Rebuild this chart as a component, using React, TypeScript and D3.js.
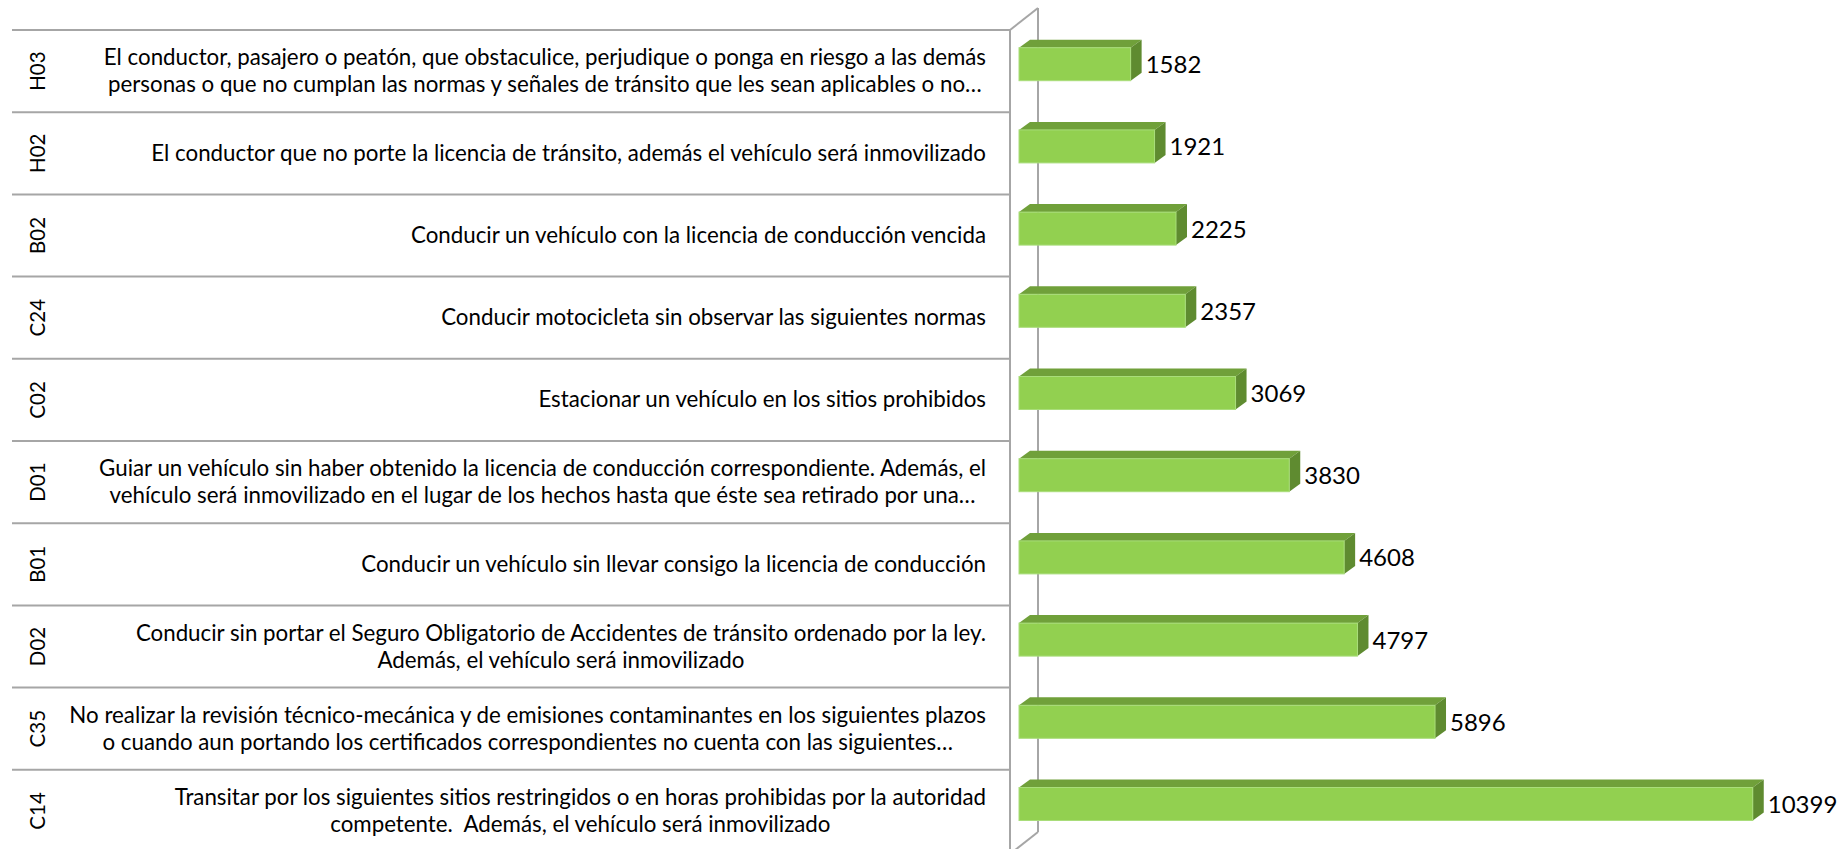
import React, { useEffect, useRef } from "react";
import * as d3 from "d3";

// codes, top to bottom
const codes = ["H03", "H02", "B02", "C24", "C02", "D01", "B01", "D02", "C35", "C14"];

const descriptions = [
  ["El conductor, pasajero o peatón, que obstaculice, perjudique o ponga en riesgo a las demás", "personas o que no cumplan las normas y señales de tránsito que les sean aplicables o no…"],
  ["El conductor que no porte la licencia de tránsito, además el vehículo será inmovilizado"],
  ["Conducir un vehículo con la licencia de conducción vencida"],
  ["Conducir motocicleta sin observar las siguientes normas"],
  ["Estacionar un vehículo en los sitios prohibidos"],
  ["Guiar un vehículo sin haber obtenido la licencia de conducción correspondiente. Además, el", "vehículo será inmovilizado en el lugar de los hechos hasta que éste sea retirado por una…"],
  ["Conducir un vehículo sin llevar consigo la licencia de conducción"],
  ["Conducir sin portar el Seguro Obligatorio de Accidentes de tránsito ordenado por la ley.", "Además, el vehículo será inmovilizado"],
  ["No realizar la revisión técnico-mecánica y de emisiones contaminantes en los siguientes plazos", "o cuando aun portando los certificados correspondientes no cuenta con las siguientes…"],
  ["Transitar por los siguientes sitios restringidos o en horas prohibidas por la autoridad", "competente.  Además, el vehículo será inmovilizado"],
];

const values = [1582, 1921, 2225, 2357, 3069, 3830, 4608, 4797, 5896, 10399];

const App = () => {
  const svgRef = useRef<SVGSVGElement>(null);

  useEffect(() => {
    document.body.style.margin = "0";
    const svg = d3.select(svgRef.current);
    svg.selectAll("*").remove();

    const height = 849;
    const font = "Lato, 'Open Sans', sans-serif";

    const y = d3.scaleBand().domain(codes).range([30, 30 + 82.2 * codes.length]);
    const x = d3.scaleLinear().domain([0, 12000]).range([1019, 1019 + 0.07056 * 12000]);

    const wallFront = 1010;
    const wallBack = 1038;
    const depthX = 11;
    const depthY = 8;
    const labelRight = 986;
    const gray = "#a6a6a6";

    // 3d wall: back edge first so the bars sit over it
    svg.append("line")
      .attr("x1", wallBack).attr("x2", wallBack)
      .attr("y1", 8).attr("y2", 832)
      .attr("stroke", gray).attr("stroke-width", 2);
    svg.append("line")
      .attr("x1", wallFront).attr("y1", 30)
      .attr("x2", wallBack).attr("y2", 8)
      .attr("stroke", gray).attr("stroke-width", 2);
    svg.append("line")
      .attr("x1", wallBack).attr("y1", 832)
      .attr("x2", wallFront).attr("y2", 854)
      .attr("stroke", gray).attr("stroke-width", 2);
    svg.append("line")
      .attr("x1", wallFront).attr("x2", wallFront)
      .attr("y1", 30).attr("y2", height)
      .attr("stroke", gray).attr("stroke-width", 2);

    // table row lines
    svg.selectAll(".row")
      .data(codes)
      .join("line")
      .attr("class", "row")
      .attr("x1", 12)
      .attr("x2", wallFront)
      .attr("y1", (d) => y(d)!)
      .attr("y2", (d) => y(d)!)
      .attr("stroke", gray)
      .attr("stroke-width", 2);

    // code labels
    svg.selectAll(".code")
      .data(codes)
      .join("text")
      .attr("class", "code")
      .attr("transform", (d) => `translate(45,${y(d)! + y.bandwidth() / 2}) rotate(-90)`)
      .attr("text-anchor", "middle")
      .attr("font-family", font)
      .attr("font-size", 20.5)
      .attr("fill", "#000")
      .text((d) => d);

    // description labels: lines centred to each other, block right aligned
    codes.forEach((c, i) => {
      const lines = descriptions[i];
      const cy = y(c)! + y.bandwidth() / 2;
      const g = svg.append("g");
      const texts = lines.map((t, j) =>
        g.append("text")
          .attr("y", cy + 7.5 + (j - (lines.length - 1) / 2) * 27)
          .attr("text-anchor", "middle")
          .attr("font-family", font)
          .attr("font-size", 22.3)
          .attr("fill", "#000")
          .style("white-space", "pre")
          .text(t)
      );
      const w = d3.max(texts, (t) => (t.node() as SVGTextElement).getComputedTextLength()) || 0;
      texts.forEach((t) => t.attr("x", labelRight - w / 2));
    });

    // bars
    const barTop = (d: string) => y(d)! + 17.7;
    const barH = 33;
    const bars = svg.selectAll(".bar")
      .data(codes.map((c, i) => ({ code: c, value: values[i] })))
      .join("g")
      .attr("class", "bar");

    bars.append("polygon")
      .attr("points", (d) => {
        const x0 = x(0), x1 = x(d.value), t = barTop(d.code);
        return [[x0, t], [x0 + depthX, t - depthY], [x1 + depthX, t - depthY], [x1, t]].join(" ");
      })
      .attr("fill", "#70a03a");

    bars.append("polygon")
      .attr("points", (d) => {
        const x1 = x(d.value), t = barTop(d.code);
        return [[x1, t], [x1 + depthX, t - depthY], [x1 + depthX, t + barH - depthY], [x1, t + barH]].join(" ");
      })
      .attr("fill", "#5f8b30");

    bars.append("rect")
      .attr("x", x(0))
      .attr("y", (d) => barTop(d.code))
      .attr("width", (d) => x(d.value) - x(0))
      .attr("height", barH)
      .attr("fill", "#92d050")
      .attr("stroke", "#a9dd7a")
      .attr("stroke-width", 1);

    bars.append("text")
      .attr("x", (d) => x(d.value) + depthX + 4)
      .attr("y", (d) => barTop(d.code) + barH - 7.5)
      .attr("font-family", font)
      .attr("font-size", 24)
      .attr("fill", "#000")
      .text((d) => d.value);
  }, []);

  return <svg ref={svgRef} width={1845} height={849} style={{ display: "block", background: "#fff" }}></svg>;
};

export default App;
